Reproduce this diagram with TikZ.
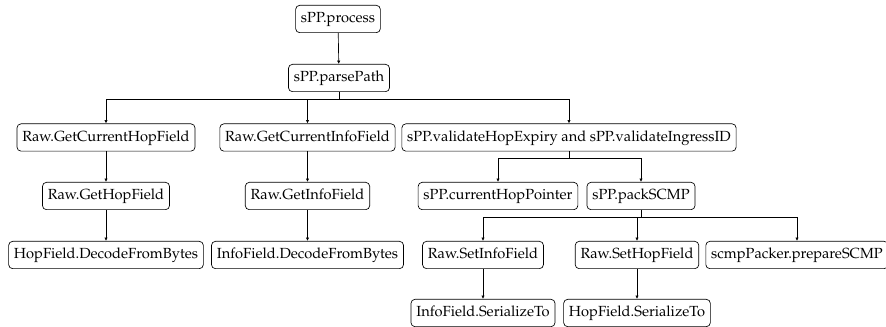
\documentclass[tikz,border=0pt]{standalone}
\usepackage[T1]{fontenc}
\usepackage{mathpazo}
\usetikzlibrary{arrows.meta}

\begin{document}
\begin{tikzpicture}[x=0.75pt,y=0.75pt,yscale=-1,xscale=1,
  box/.style={draw, rounded corners=3pt, line width=0.5pt, font=\fontsize{11}{13}\selectfont,
    text height=8pt, text depth=2.5pt, inner xsep=4pt, inner ysep=5pt},
  edge/.style={line width=0.5pt, -{Latex[length=2.6pt,width=2.6pt]}}]
\useasboundingbox (0,0) rectangle (886,327); %diagram is 886 wide and 327 high
% Text Node
\draw (338,19) node [box] (process) {sPP.process};
% Text Node
\draw (339,78) node [box] (parsePath) {sPP.parsePath};
% Text Node
\draw (106,137.5) node [box] (getCurHop) {Raw.GetCurrentHopField};
% Text Node
\draw (307.5,137.5) node [box] (getCurInfo) {Raw.GetCurrentInfoField};
% Text Node
\draw (569,137.5) node [box] (validate) {sPP.validateHopExpiry and sPP.validateIngressID};
% Text Node
\draw (106,196) node [box] (getHop) {Raw.GetHopField};
% Text Node
\draw (307.5,196) node [box] (getInfo) {Raw.GetInfoField};
% Text Node
\draw (498,196) node [box] (curHopPtr) {sPP.currentHopPointer};
% Text Node
\draw (641,196) node [box] (packSCMP) {sPP.packSCMP};
% Text Node
\draw (106,255) node [box] (hopDecode) {HopField.DecodeFromBytes};
% Text Node
\draw (307.5,255) node [box] (infoDecode) {InfoField.DecodeFromBytes};
% Text Node
\draw (483,255) node [box] (setInfo) {Raw.SetInfoField};
% Text Node
\draw (637,255) node [box] (setHop) {Raw.SetHopField};
% Text Node
\draw (797,255) node [box] (prepSCMP) {scmpPacker.prepareSCMP};
% Text Node
\draw (483,313) node [box] (infoSer) {InfoField.SerializeTo};
% Text Node
\draw (637,313) node [box] (hopSer) {HopField.SerializeTo};
%Straight Lines
\draw [edge] (process) -- (parsePath);
%Straight Lines
\draw [edge] (parsePath.south) -- ++(0,7) -| (getCurHop.north);
\draw [edge] (parsePath.south) -- ++(0,7) -| (getCurInfo.north);
\draw [edge] (parsePath.south) -- ++(0,7) -| (validate.north);
%Straight Lines
\draw [edge] (getCurHop) -- (getHop);
\draw [edge] (getHop) -- (hopDecode);
\draw [edge] (getCurInfo) -- (getInfo);
\draw [edge] (getInfo) -- (infoDecode);
%Straight Lines
\draw [edge] (validate.south) -- ++(0,7) -| (curHopPtr.north);
\draw [edge] (validate.south) -- ++(0,7) -| (packSCMP.north);
%Straight Lines
\draw [edge] (packSCMP.south) -- ++(0,7) -| (setInfo.north);
\draw [edge] (packSCMP.south) -- ++(0,7) -| (setHop.north);
\draw [edge] (packSCMP.south) -- ++(0,7) -| (prepSCMP.north);
%Straight Lines
\draw [edge] (setInfo) -- (infoSer);
\draw [edge] (setHop) -- (hopSer);
\end{tikzpicture}
\end{document}
